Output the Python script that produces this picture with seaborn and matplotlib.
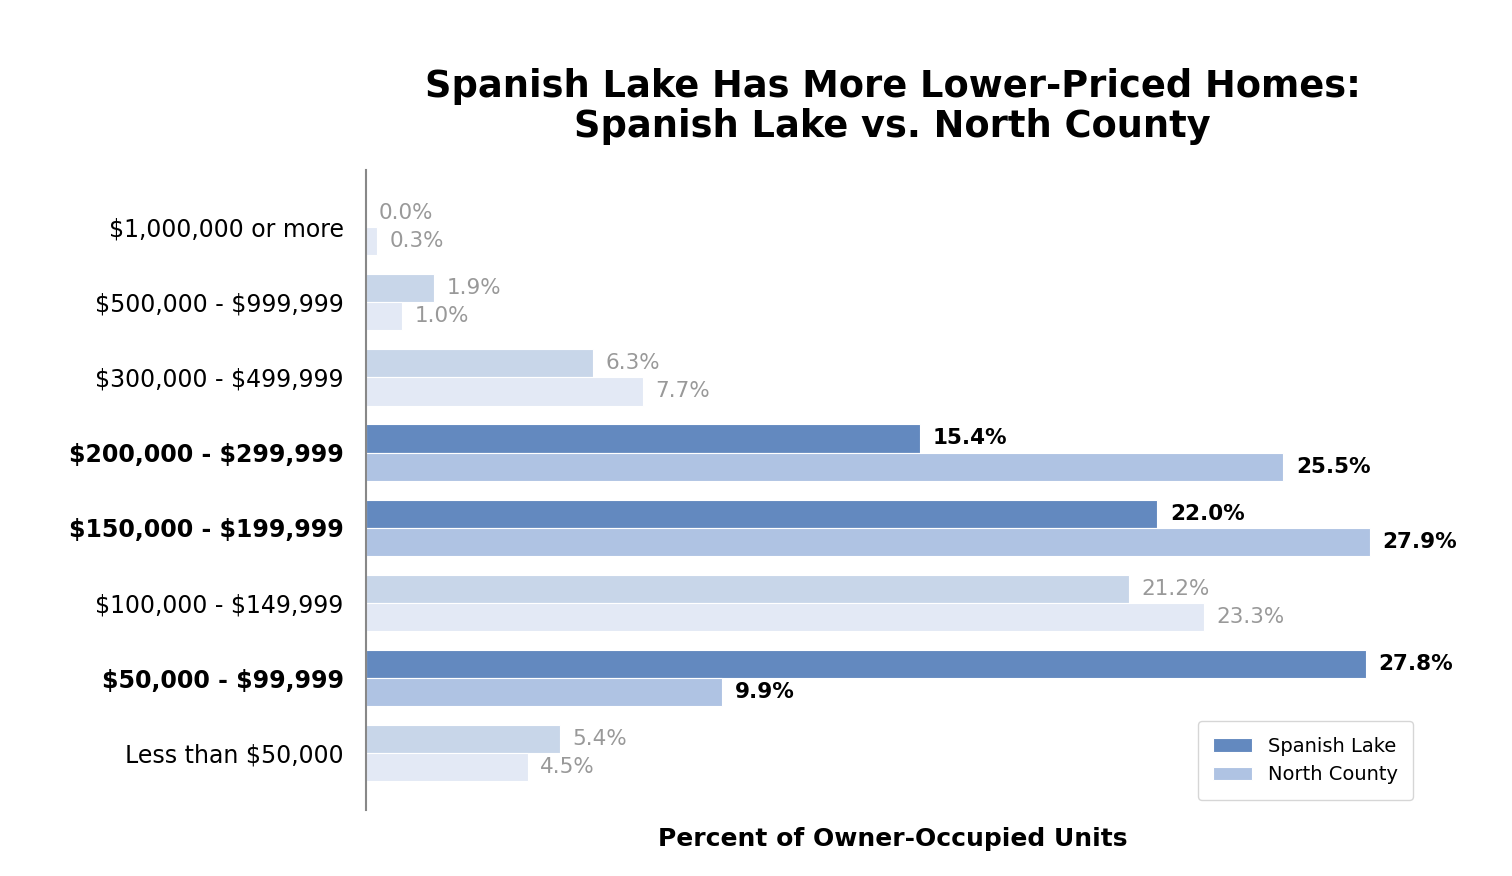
import matplotlib
matplotlib.use('Agg')
import matplotlib.pyplot as plt
import pandas as pd
import seaborn as sns

# Data
ranges = ['$1,000,000 or more', '$500,000 - $999,999', '$300,000 - $499,999',
          '$200,000 - $299,999', '$150,000 - $199,999', '$100,000 - $149,999',
          '$50,000 - $99,999', 'Less than $50,000']
spanish_lake = [0.0, 1.9, 6.3, 15.4, 22.0, 21.2, 27.8, 5.4]
north_county = [0.3, 1.0, 7.7, 25.5, 27.9, 23.3, 9.9, 4.5]
highlight = ['$200,000 - $299,999', '$150,000 - $199,999', '$50,000 - $99,999']
areas = ['Spanish Lake', 'North County']

df = pd.DataFrame({
    'range': ranges * 2,
    'pct': spanish_lake + north_county,
    'area': ['Spanish Lake'] * len(ranges) + ['North County'] * len(ranges),
})

full_colors = {'Spanish Lake': '#6389bf', 'North County': '#afc3e3'}
faded_colors = {'Spanish Lake': '#c8d6e9', 'North County': '#e3e9f5'}

sns.set_style('white')
plt.rcParams['text.parse_math'] = False
plt.rcParams['text.color'] = 'black'
plt.rcParams['axes.labelcolor'] = 'black'
plt.rcParams['ytick.color'] = 'black'

fig = plt.figure(figsize=(15.12, 8.76), dpi=100)
ax = fig.add_axes([0.242, 0.075, 0.697, 0.731])

sns.barplot(data=df, y='range', x='pct', hue='area', order=ranges, hue_order=areas,
            orient='h', width=0.75, palette=full_colors, ax=ax, errorbar=None,
            edgecolor='white', linewidth=0.8)

xmax = max(spanish_lake + north_county) * 1.05
ax.set_xlim(0, xmax)
ax.set_ylim(len(ranges) - 1 + 0.76, -0.76)

# recolour bars and add value labels
for area, cont in zip(areas, ax.containers):
    vals = spanish_lake if area == 'Spanish Lake' else north_county
    for cat, bar, v in zip(ranges, cont, vals):
        hl = cat in highlight
        bar.set_facecolor(full_colors[area] if hl else faded_colors[area])
        ax.text(bar.get_width() + 0.35, bar.get_y() + bar.get_height() / 2,
                f'{v:.1f}%', va='center', ha='left', fontsize=15.5,
                color='black' if hl else '#999999',
                fontweight='bold' if hl else 'normal')

ax.set_xticks([])
ax.set_ylabel('')
ax.set_xlabel('Percent of Owner-Occupied Units', fontsize=18, fontweight='bold', labelpad=12)
ax.tick_params(axis='y', length=0, labelsize=17, pad=16)
for lbl in ax.get_yticklabels():
    if lbl.get_text() in highlight:
        lbl.set_fontweight('bold')

for s in ['top', 'right', 'bottom']:
    ax.spines[s].set_visible(False)
ax.spines['left'].set_color('#888888')
ax.spines['left'].set_linewidth(1.5)

ax.set_title('Spanish Lake Has More Lower-Priced Homes:\nSpanish Lake vs. North County',
             fontsize=26.5, fontweight='bold', pad=24, linespacing=1.1)

leg = ax.legend(loc='lower right', fontsize=14, frameon=True, borderpad=0.8,
                bbox_to_anchor=(1.003, 0.001))
leg.get_frame().set_edgecolor('#cccccc')
for h, area in zip(leg.legend_handles, areas):
    h.set_facecolor(full_colors[area])

fig.savefig('out.png', dpi=100)
